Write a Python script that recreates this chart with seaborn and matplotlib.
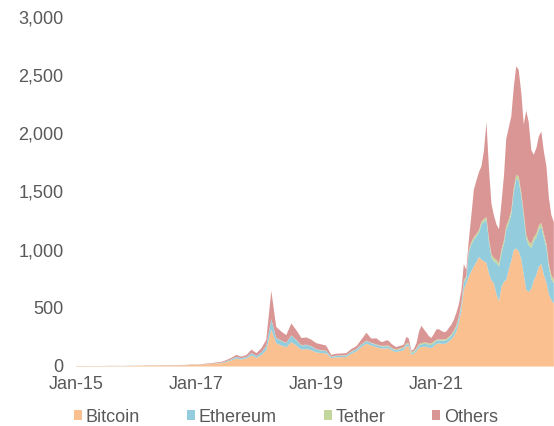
import numpy as np
import pandas as pd
import matplotlib
matplotlib.use("Agg")
import matplotlib.pyplot as plt
import matplotlib.dates as mdates
import matplotlib.ticker as mticker
import seaborn as sns

# Dates: monthly 2015-2019, then twice a month 2020-2022
monthly = pd.date_range("2015-01-01", "2019-12-01", freq="MS")
semi = []
for d in pd.date_range("2020-01-01", "2022-12-01", freq="MS"):
    semi += [d, d + pd.Timedelta(days=15)]
dates = list(monthly) + semi

series = ["Bitcoin", "Ethereum", "Tether", "Others"]
colors = ["#FAC090", "#93CDDD", "#C3D69B", "#D99694"]
tick_dates = ["2015-01-01", "2017-01-01", "2019-01-01", "2021-01-01"]

# Market cap, $bn
bitcoin = [
    4, 3, 4, 3, 3, 3, 4, 4, 3, 3, 4, 5,
    6, 6, 6, 7, 7, 8, 9, 9, 9, 10, 11, 14,
    14, 16, 19, 21, 26, 29, 38, 52, 68, 60, 70, 95,
    75, 100, 140, 320, 200, 180, 165, 210, 180, 145, 150, 140,
    120, 115, 113, 72, 78, 80, 82, 110, 130, 167, 196, 180,
    167, 160, 155, 155, 155, 155, 140, 130, 124, 130, 135, 140,
    175, 170, 100, 110, 130, 160, 167, 170, 170, 160, 160, 175,
    195, 198, 195, 195, 198, 215, 235, 260, 300, 370, 480, 660,
    715, 770, 820, 860, 900, 940, 920, 905, 890, 800, 740, 715,
    620, 560, 690, 730, 744, 830, 910, 1000, 1015, 990, 920, 790,
    660, 640, 670, 740, 790, 860, 880, 790, 720, 620, 570, 540,
]
ethereum = [
    0, 0, 0, 0, 0, 0, 0, 1, 1, 1, 1, 1,
    1, 1, 1, 1, 1, 1, 1, 1, 1, 1, 1, 1,
    1, 1, 1, 2, 3, 4, 7, 10, 14, 11, 12, 20,
    15, 22, 35, 85, 45, 40, 35, 55, 45, 35, 35, 32,
    25, 22, 20, 10, 12, 12, 12, 15, 17, 20, 22, 20,
    18, 18, 18, 18, 18, 18, 16, 15, 15, 15, 16, 17,
    18, 18, 14, 14, 18, 22, 23, 24, 24, 24, 25, 25,
    27, 27, 27, 28, 28, 28, 28, 35, 38, 40, 45, 60,
    45, 210, 230, 230, 220, 210, 300, 340, 370, 270, 200, 190,
    270, 300, 290, 330, 430, 400, 400, 500, 600, 610, 540, 500,
    440, 400, 350, 340, 320, 320, 320, 320, 300, 230, 180, 175,
]
tether = [
    0, 0, 0, 0, 0, 0, 0, 0, 0, 0, 0, 0,
    0, 0, 0, 0, 0, 0, 0, 0, 0, 0, 0, 0,
    0, 0, 0, 0, 0, 0, 0, 1, 1, 1, 1, 1,
    1, 1, 2, 3, 3, 3, 3, 3, 3, 3, 3, 3,
    3, 3, 3, 3, 3, 3, 3, 4, 4, 4, 4, 4,
    5, 5, 5, 5, 6, 6, 6, 7, 7, 7, 8, 8,
    9, 9, 9, 10, 10, 11, 11, 12, 12, 13, 14, 15,
    8, 9, 9, 10, 10, 11, 12, 13, 14, 15, 16, 17,
    18, 19, 20, 21, 22, 22, 23, 23, 24, 25, 26, 27,
    28, 29, 30, 30, 31, 31, 32, 32, 33, 33, 33, 33,
    33, 33, 33, 33, 33, 33, 33, 33, 33, 33, 33, 33,
]
others = [
    1, 1, 1, 1, 1, 1, 1, 1, 1, 1, 1, 1,
    1, 1, 2, 2, 2, 2, 2, 2, 2, 2, 2, 3,
    2, 3, 5, 5, 6, 7, 10, 12, 17, 13, 17, 29,
    24, 37, 53, 242, 92, 77, 67, 102, 83, 62, 62, 55,
    52, 50, 44, 15, 17, 17, 18, 21, 24, 39, 68, 36,
    52, 42, 32, 37, 46, 41, 33, 28, 21, 23, 21, 25,
    53, 43, 12, 16, 42, 107, 149, 114, 84, 63, 46, 65,
    90, 86, 74, 62, 64, 76, 85, 92, 108, 105, 109, 143,
    52, 81, 230, 409, 458, 498, 477, 582, 815, 605, 434, 368,
    302, 291, 410, 560, 750, 789, 808, 868, 932, 917, 857, 757,
    1067, 1027, 807, 707, 737, 767, 787, 707, 667, 567, 517, 492,
]

sns.set_theme(style="white")
plt.rcParams["font.family"] = ["Liberation Sans", "DejaVu Sans"]

fig = plt.figure(figsize=(5.54, 4.26), dpi=100)
ax = fig.add_axes([76 / 554, 60 / 426, 478 / 554, 349 / 426])

ax.stackplot(dates, bitcoin, ethereum, tether, others,
             labels=series, colors=colors, linewidth=0)

ax.set_xlim(pd.Timestamp("2015-01-01"), pd.Timestamp("2022-12-20"))
ax.set_ylim(0, 3000)
ax.yaxis.set_major_locator(mticker.MultipleLocator(500))
ax.yaxis.set_major_formatter(mticker.StrMethodFormatter("{x:,.0f}"))
ax.set_xticks(pd.to_datetime(tick_dates))
ax.xaxis.set_major_formatter(mdates.DateFormatter("%b-%y"))

ax.tick_params(axis="both", length=0, labelsize=13, labelcolor="#595959")
ax.tick_params(axis="y", pad=9)
ax.tick_params(axis="x", pad=7)
sns.despine(ax=ax, left=True, bottom=True)

handles, labels = ax.get_legend_handles_labels()
fig.legend(handles, labels, loc="center", bbox_to_anchor=(286 / 554, 1 - 417 / 426),
           ncol=4, frameon=False, fontsize=13, labelcolor="#595959",
           handlelength=0.45, handleheight=0.45, handletextpad=0.2,
           columnspacing=2.6, borderaxespad=0)

fig.savefig("out.png", dpi=100)
